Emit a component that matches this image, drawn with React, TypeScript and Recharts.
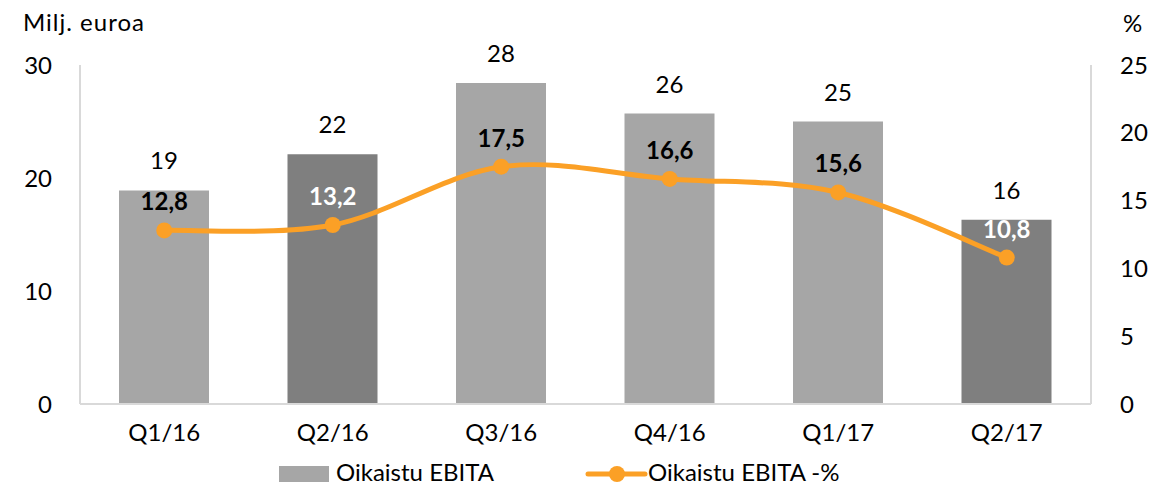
import { ComposedChart, Bar, Line, XAxis, YAxis, Legend, LabelList, Cell } from "recharts";

const categories = ["Q1/16", "Q2/16", "Q3/16", "Q4/16", "Q1/17", "Q2/17"];
const ebita = [18.9, 22.1, 28.4, 25.7, 25.0, 16.3];
const ebitaPct = [12.8, 13.2, 17.5, 16.6, 15.6, 10.8];
const darkQuarters = ["Q2/16", "Q2/17"];
const leftTicks = [0, 10, 20, 30];
const rightTicks = [0, 5, 10, 15, 20, 25];

const FONT = "Lato, 'Noto Sans', sans-serif";
const FS = 24;
const LIGHT = "#A6A6A6";
const DARK = "#7F7F7F";
const ORANGE = "#FBA026";
const AXIS = "#D9D9D9";

const data = categories.map((q, i) => ({ q, ebita: ebita[i], pct: ebitaPct[i] }));

// Excel-style smoothed line (Catmull-Rom through the points)
const excelSmooth = (context: any) => {
  let pts: [number, number][] = [];
  return {
    areaStart() {},
    areaEnd() {},
    lineStart() {
      pts = [];
    },
    point(x: number, y: number) {
      pts.push([+x, +y]);
    },
    lineEnd() {
      if (!pts.length) return;
      context.moveTo(pts[0][0], pts[0][1]);
      for (let i = 0; i < pts.length - 1; i++) {
        const p0 = pts[i - 1] ?? pts[i];
        const p1 = pts[i];
        const p2 = pts[i + 1];
        const p3 = pts[i + 2] ?? p2;
        context.bezierCurveTo(
          p1[0] + (p2[0] - p0[0]) / 6,
          p1[1] + (p2[1] - p0[1]) / 6,
          p2[0] - (p3[0] - p1[0]) / 6,
          p2[1] - (p3[1] - p1[1]) / 6,
          p2[0],
          p2[1]
        );
      }
    },
  };
};

const PctLabel = (props: any) => {
  const { x, y, value, index } = props;
  const onDark = darkQuarters.includes(categories[index]);
  return (
    <text
      x={x}
      y={y - 20}
      textAnchor="middle"
      fill={onDark ? "#FFFFFF" : "#000000"}
      fontWeight="bold"
      fontSize={FS}
      fontFamily={FONT}
    >
      {Number(value).toFixed(1).replace(".", ",")}
    </text>
  );
};

const renderLegend = () => (
  <svg width={1168} height={24} style={{ display: "block", overflow: "visible" }}>
    <rect x={279} y={5} width={50} height={16} fill={LIGHT} />
    <text x={336} y={20} fontSize={FS} fontFamily={FONT} fill="#000">
      Oikaistu EBITA
    </text>
    <line x1={588} x2={645} y1={13} y2={13} stroke={ORANGE} strokeWidth={5} strokeLinecap="round" />
    <circle cx={617} cy={13} r={8} fill={ORANGE} />
    <text x={648} y={20} fontSize={FS} fontFamily={FONT} fill="#000">
      Oikaistu EBITA -%
    </text>
  </svg>
);

const tickStyle = { fill: "#000", fontSize: FS, fontFamily: FONT };

export default function App() {
  return (
    <div style={{ position: "absolute", left: 0, top: 0, width: 1168, height: 485, background: "#fff" }}>
      <ComposedChart width={1168} height={485} data={data} margin={{ top: 65, right: 0, left: 0, bottom: 0 }}>
        <XAxis
          dataKey="q"
          axisLine={{ stroke: AXIS, strokeWidth: 2 }}
          tickLine={false}
          tickSize={0}
          tickMargin={20}
          height={57}
          tick={tickStyle}
        />
        <YAxis
          yAxisId="left"
          domain={[0, 30]}
          ticks={leftTicks}
          width={80}
          axisLine={{ stroke: AXIS, strokeWidth: 2 }}
          tickLine={false}
          tickSize={0}
          tickMargin={28}
          tick={tickStyle}
        />
        <YAxis
          yAxisId="right"
          orientation="right"
          domain={[0, 25]}
          ticks={rightTicks}
          width={77}
          axisLine={{ stroke: AXIS, strokeWidth: 2 }}
          tickLine={false}
          tickSize={0}
          tickMargin={29}
          tick={tickStyle}
        />
        <Legend content={renderLegend} wrapperStyle={{ left: 0, top: 461, width: 1168, height: 24 }} />
        <Bar yAxisId="left" dataKey="ebita" barSize={90} isAnimationActive={false} name="Oikaistu EBITA">
          {data.map((d) => (
            <Cell key={d.q} fill={darkQuarters.includes(d.q) ? DARK : LIGHT} />
          ))}
          <LabelList
            dataKey="ebita"
            position="top"
            offset={21}
            formatter={(v: any) => Math.round(Number(v))}
            fill="#000"
            fontSize={FS}
            fontFamily={FONT}
          />
        </Bar>
        <Line
          yAxisId="right"
          dataKey="pct"
          type={excelSmooth as any}
          stroke={ORANGE}
          strokeWidth={5}
          dot={{ r: 8, fill: ORANGE, stroke: ORANGE, strokeWidth: 0 }}
          activeDot={false}
          isAnimationActive={false}
          name="Oikaistu EBITA -%"
        >
          <LabelList dataKey="pct" content={PctLabel} />
        </Line>
      </ComposedChart>
      <svg width={1168} height={60} style={{ position: "absolute", left: 0, top: 0, pointerEvents: "none" }}>
        <text x={23} y={31} fontSize={FS} fontFamily={FONT} fill="#000" letterSpacing={1}>
          Milj. euroa
        </text>
        <text x={1123} y={32} fontSize={FS} fontFamily={FONT} fill="#000">
          %
        </text>
      </svg>
    </div>
  );
}
